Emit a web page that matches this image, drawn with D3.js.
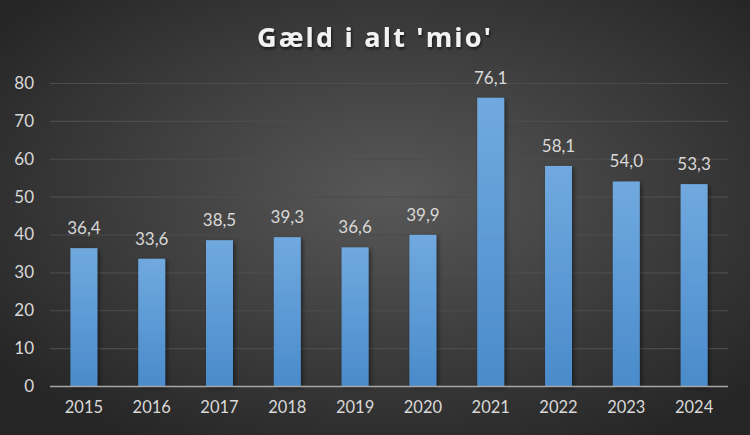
<!DOCTYPE html>
<html><head><meta charset="utf-8">
<script src="https://cdn.jsdelivr.net/npm/d3@7"></script>
<style>html,body{margin:0;padding:0;background:#2a2a2a;}svg{display:block;}</style>
</head><body>
<script>
const categories = ["2015","2016","2017","2018","2019","2020","2021","2022","2023","2024"];
const values = [36.4,33.6,38.5,39.3,36.6,39.9,76.1,58.1,54.0,53.3];
const yTicks = [0,10,20,30,40,50,60,70,80];
const title = "Gæld i alt 'mio'";

const W = 750, H = 435;
const svg = d3.select("body").append("svg").attr("width", W).attr("height", H);
const defs = svg.append("defs");
const bg = defs.append("radialGradient").attr("id","bg").attr("cx","52%").attr("cy","45%").attr("r","65%");
bg.append("stop").attr("offset","0%").attr("stop-color","#585858");
bg.append("stop").attr("offset","100%").attr("stop-color","#262626");
const bar = defs.append("linearGradient").attr("id","bar").attr("x1",0).attr("y1",0).attr("x2",0).attr("y2",1);
bar.append("stop").attr("offset","0%").attr("stop-color","#70a9df");
bar.append("stop").attr("offset","100%").attr("stop-color","#4a8bcb");
const sh = defs.append("filter").attr("id","sh").attr("x","-30%").attr("y","-30%").attr("width","160%").attr("height","160%");
sh.append("feDropShadow").attr("dx",2).attr("dy",2).attr("stdDeviation",2).attr("flood-color","#000").attr("flood-opacity",0.45);
const tsh = defs.append("filter").attr("id","tsh");
tsh.append("feDropShadow").attr("dx",1).attr("dy",2).attr("stdDeviation",1.5).attr("flood-color","#000").attr("flood-opacity",0.6);

svg.append("rect").attr("width",W).attr("height",H).attr("fill","url(#bg)");

const x = d3.scaleBand().domain(categories).range([50,728]).paddingInner(0.602).paddingOuter(0.301);
const y = d3.scaleLinear().domain([0,80]).range([386,83]);

const font = "Lato, 'Open Sans', sans-serif";

svg.append("text").attr("x",375).attr("y",47).attr("text-anchor","middle")
  .attr("fill","#f2f2f2").attr("font-family","'Open Sans', sans-serif").attr("font-weight","bold")
  .attr("font-size",27).attr("letter-spacing",2.2).attr("filter","url(#tsh)").text(title);

// grid
svg.append("g").selectAll("line").data(yTicks.filter(d=>d>0)).join("line")
  .attr("x1",50).attr("x2",728).attr("y1",d=>y(d)+0.5).attr("y2",d=>y(d)+0.5)
  .attr("stroke","#4c4c4c").attr("stroke-width",1.2);

// y axis
const ya = svg.append("g").attr("transform","translate(50,0)")
  .call(d3.axisLeft(y).tickValues(yTicks).tickSize(0).tickPadding(16));
ya.select(".domain").remove();
ya.selectAll("text").attr("fill","#d9d9d9").attr("font-family",font).attr("font-size",17);

// bars
svg.append("g").selectAll("rect").data(values).join("rect")
  .attr("x",(d,i)=>x(categories[i])).attr("width",x.bandwidth())
  .attr("y",d=>y(d)).attr("height",d=>y(0)-y(d))
  .attr("fill","url(#bar)").attr("filter","url(#sh)");

// baseline
svg.append("line").attr("x1",50).attr("x2",728).attr("y1",y(0)+0.5).attr("y2",y(0)+0.5)
  .attr("stroke","#a6a6a6").attr("stroke-width",1.5);

// x axis
const xa = svg.append("g").attr("transform",`translate(0,${y(0)})`)
  .call(d3.axisBottom(x).tickSize(0).tickPadding(15));
xa.select(".domain").remove();
xa.selectAll("text").attr("fill","#d9d9d9").attr("font-family",font).attr("font-size",16.5);

// value labels
const fmt = v => v.toFixed(1).replace(".",",");
svg.append("g").selectAll("text").data(values).join("text")
  .attr("x",(d,i)=>x(categories[i])+x.bandwidth()/2).attr("y",d=>y(d)-14)
  .attr("text-anchor","middle").attr("fill","#d9d9d9").attr("font-family",font).attr("font-size",17)
  .text(fmt);
</script>
</body></html>
